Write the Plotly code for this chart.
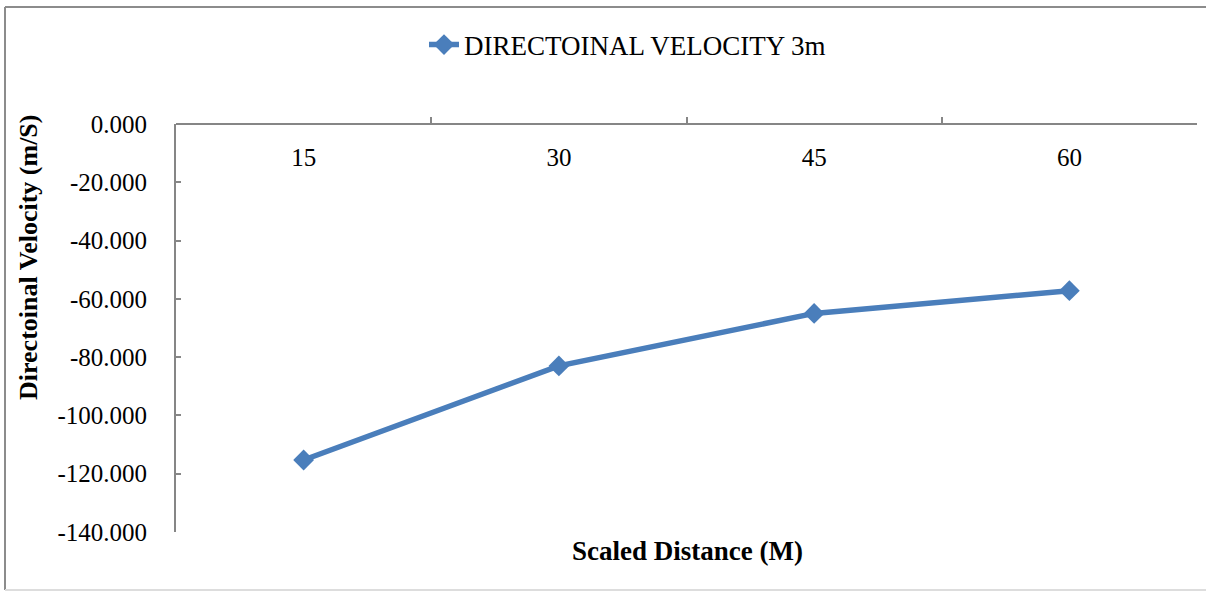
import plotly.graph_objects as go

categories = ["15", "30", "45", "60"]
velocity = [-115.3, -83.0, -65.0, -57.2]
y_tick_values = [0, -20, -40, -60, -80, -100, -120, -140]
y_tick_labels = ["0.000", "-20.000", "-40.000", "-60.000", "-80.000", "-100.000", "-120.000", "-140.000"]
series_name = "DIRECTOINAL VELOCITY 3m"
y_title = "Directoinal Velocity (m/S)"
x_title = "Scaled Distance (M)"

W, H = 1206, 591
L, R, T, B = 176, 1197, 124, 532

def px(x):
    return (x - L) / (R - L)

def py(y):
    return (B - y) / (B - T)

FONT = "Liberation Serif"
AXIS = "#868686"
BLUE = "#4a7ebb"

fig = go.Figure()
fig.add_trace(go.Scatter(
    x=categories, y=velocity, mode="lines+markers", name=series_name,
    line=dict(color=BLUE, width=5.5),
    marker=dict(symbol="diamond", size=16, color=BLUE),
))

fig.update_layout(
    width=W, height=H,
    margin=dict(l=L, r=W - R, t=T, b=H - B, pad=0),
    paper_bgcolor="white", plot_bgcolor="white",
    font=dict(family=FONT, size=25, color="black"),
    showlegend=True,
    legend=dict(x=px(424), y=py(45), xanchor="left", yanchor="middle",
                orientation="h", font=dict(family=FONT, size=27), bgcolor="rgba(0,0,0,0)"),
    xaxis=dict(type="category", side="bottom", anchor="free", position=1,
               range=[-0.5, 3.5],
               showline=True, linecolor=AXIS, linewidth=2,
               ticks="inside", tickson="boundaries", ticklen=6, tickcolor=AXIS, tickwidth=2,
               ticklabelstandoff=11,
               showgrid=False, zeroline=False, tickfont=dict(family=FONT, size=25)),
    yaxis=dict(range=[-140, 0], tickmode="array", tickvals=y_tick_values, ticktext=y_tick_labels,
               showline=True, linecolor=AXIS, linewidth=2,
               ticks="inside", ticklen=5, tickcolor=AXIS, tickwidth=2,
               ticklabelstandoff=22,
               showgrid=False, zeroline=False, tickfont=dict(family=FONT, size=25)),
    annotations=[
        dict(text="<b>" + y_title + "</b>", xref="paper", yref="paper",
             x=px(28), y=py(258), textangle=-90, showarrow=False,
             xanchor="center", yanchor="middle", font=dict(family=FONT, size=26)),
        dict(text="<b>" + x_title + "</b>", xref="paper", yref="paper",
             x=px(687), y=py(551), showarrow=False,
             xanchor="center", yanchor="middle", font=dict(family=FONT, size=27)),
    ],
    shapes=[
        dict(type="line", xref="paper", yref="paper", x0=px(5), x1=px(5), y0=py(7), y1=py(590),
             line=dict(color="#8c8c8c", width=2)),
        dict(type="line", xref="paper", yref="paper", x0=px(5), x1=px(1206), y0=py(7), y1=py(7),
             line=dict(color="#8c8c8c", width=2)),
        dict(type="line", xref="paper", yref="paper", x0=px(5), x1=px(1206), y0=py(590), y1=py(590),
             line=dict(color="#dddddd", width=2)),
    ],
)

fig.write_html("out.html")
